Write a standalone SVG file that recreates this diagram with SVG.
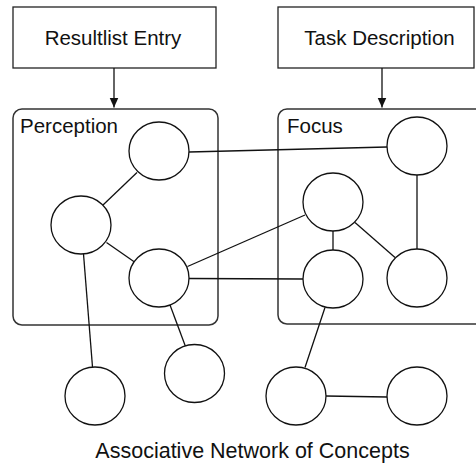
<svg xmlns="http://www.w3.org/2000/svg" width="476" height="463" viewBox="0 0 476 463">
  <style>
    .box { fill: #fff; stroke: #222; stroke-width: 1.3; }
    .area { fill: none; stroke: #333; stroke-width: 1.5; }
    .concept { fill: #fff; stroke: #111; stroke-width: 1.3; }
    .link { stroke: #111; stroke-width: 1.3; fill: none; }
    .label { font-family: "Liberation Sans", Arial, sans-serif; font-size: 20.5px; fill: #111; }
  </style>
  <defs>
    <marker id="arrow" viewBox="0 0 10 12" refX="10" refY="6" markerWidth="10" markerHeight="12" markerUnits="userSpaceOnUse" orient="auto">
      <path d="M0,1.5 L10,6 L0,10.5 Z" fill="#111"/>
    </marker>
  </defs>

  <!-- input sources -->
  <g id="resultlist-entry">
    <rect class="box" x="13" y="7" width="203" height="61"/>
    <text class="label" x="113" y="45" text-anchor="middle">Resultlist Entry</text>
  </g>
  <g id="task-description">
    <rect class="box" x="278" y="7" width="196" height="61"/>
    <text class="label" x="379.5" y="45" text-anchor="middle">Task Description</text>
  </g>

  <!-- regions of the network -->
  <g id="perception">
    <rect class="area" x="13" y="109" width="205" height="216" rx="9"/>
    <text class="label" x="20" y="133">Perception</text>
  </g>
  <g id="focus">
    <rect class="area" x="278" y="109" width="220" height="215" rx="9"/>
    <text class="label" x="287" y="133">Focus</text>
  </g>

  <!-- connectors -->
  <g id="connectors">
    <line class="link" x1="114" y1="68" x2="114" y2="107.5" marker-end="url(#arrow)"/>
    <line class="link" x1="382" y1="68" x2="382" y2="107.5" marker-end="url(#arrow)"/>
    <line class="link" x1="189" y1="152" x2="387" y2="147"/>
    <line class="link" x1="137" y1="172.5" x2="103" y2="205"/>
    <line class="link" x1="106.5" y1="242.5" x2="134.5" y2="262"/>
    <line class="link" x1="83.5" y1="254" x2="92.5" y2="367"/>
    <line class="link" x1="170" y1="305" x2="185.5" y2="346.5"/>
    <line class="link" x1="187.5" y1="266.5" x2="305" y2="215"/>
    <line class="link" x1="189" y1="278.5" x2="303" y2="279"/>
    <line class="link" x1="333" y1="231" x2="333" y2="250"/>
    <line class="link" x1="355" y1="222.5" x2="395" y2="257.5"/>
    <line class="link" x1="417" y1="175" x2="417" y2="249"/>
    <line class="link" x1="325" y1="307.5" x2="305" y2="367.5"/>
    <line class="link" x1="326" y1="396" x2="387" y2="397"/>
  </g>

  <!-- concepts -->
  <g id="p-top"><ellipse class="concept" cx="159" cy="151" rx="30" ry="29"/></g>
  <g id="p-left"><ellipse class="concept" cx="81" cy="225" rx="30" ry="29"/></g>
  <g id="p-low"><ellipse class="concept" cx="159" cy="278" rx="30" ry="29"/></g>
  <g id="f-top"><ellipse class="concept" cx="417" cy="146" rx="30" ry="29"/></g>
  <g id="f-mid"><ellipse class="concept" cx="333" cy="202" rx="30" ry="29"/></g>
  <g id="f-low-left"><ellipse class="concept" cx="333" cy="279" rx="30" ry="29"/></g>
  <g id="f-low-right"><ellipse class="concept" cx="417" cy="278" rx="30" ry="29"/></g>
  <g id="b-1"><ellipse class="concept" cx="95" cy="396" rx="30" ry="29"/></g>
  <g id="b-2"><ellipse class="concept" cx="194.5" cy="373.5" rx="30" ry="29"/></g>
  <g id="b-3"><ellipse class="concept" cx="296" cy="396" rx="30" ry="29"/></g>
  <g id="b-4"><ellipse class="concept" cx="417" cy="396" rx="30" ry="29"/></g>

  <g id="caption">
    <text class="label" x="252.5" y="458" text-anchor="middle" style="font-size:21.5px">Associative Network of Concepts</text>
  </g>
</svg>
